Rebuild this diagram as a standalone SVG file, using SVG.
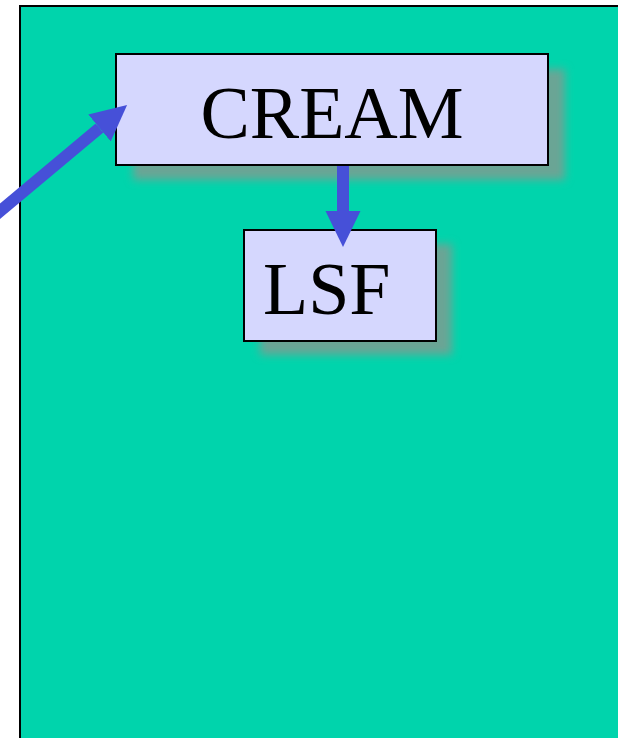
<svg xmlns="http://www.w3.org/2000/svg" width="618" height="738" viewBox="0 0 618 738">
  <style>
    .panel { fill: #00D4AC; stroke: #000; stroke-width: 2; }
    .box { fill: #D5D7FE; stroke: #000; stroke-width: 2; }
    .shadow { fill: #6BA595; filter: url(#soft); }
    .label { font-family: "Liberation Serif", "Times New Roman", serif; font-size: 74px; fill: #000; }
    .conn { stroke: #4650D8; stroke-width: 12; fill: none; marker-end: url(#head); }
  </style>
  <defs>
    <filter id="soft" x="-20%" y="-40%" width="140%" height="180%">
      <feGaussianBlur stdDeviation="4"/>
    </filter>
    <marker id="head" viewBox="0 0 36 36" refX="0" refY="18" markerWidth="36" markerHeight="36" markerUnits="userSpaceOnUse" orient="auto">
      <path d="M0,0.5 L36,18 L0,35.5 Z" fill="#4650D8"/>
    </marker>
  </defs>

  <!-- backdrop panel -->
  <rect class="panel" x="20" y="6" width="620" height="750"/>

  <g id="cream">
    <rect class="shadow" x="133" y="69" width="432" height="111"/>
    <rect class="box" x="116" y="54" width="432" height="111"/>
    <text class="label" x="332" y="138" text-anchor="middle">CREAM</text>
  </g>

  <g id="lsf">
    <rect class="shadow" x="260" y="244" width="192" height="111"/>
    <rect class="box" x="244" y="230" width="192" height="111"/>
    <text class="label" x="263" y="314">LSF</text>
  </g>

  <g id="connectors">
    <line class="conn" x1="-20" y1="228" x2="99.5" y2="128"/>
    <line class="conn" x1="343" y1="166" x2="343" y2="211"/>
  </g>
</svg>
